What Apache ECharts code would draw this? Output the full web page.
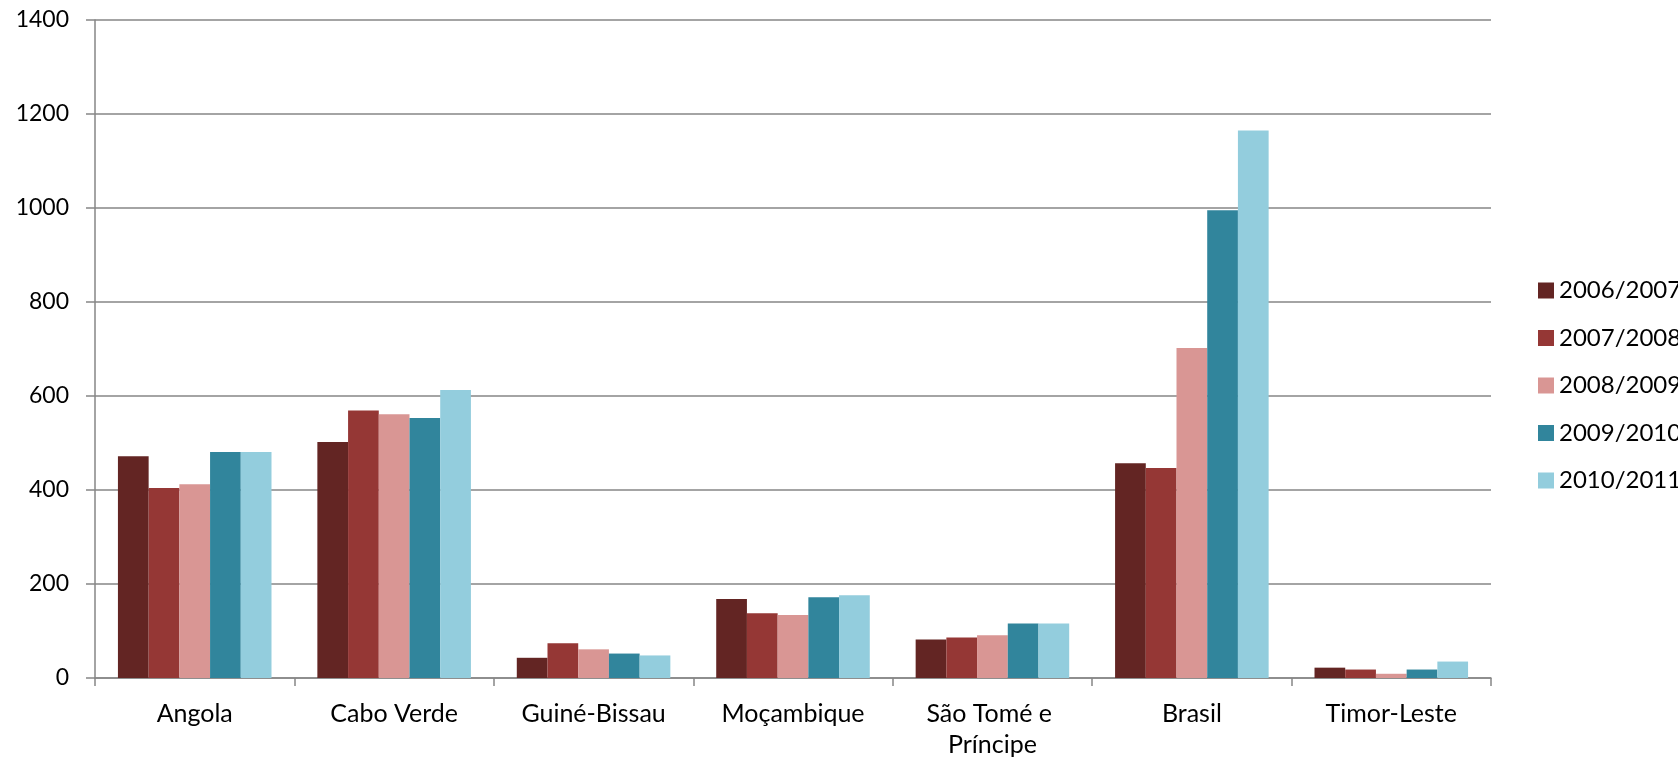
<!DOCTYPE html>
<html>
<head>
<meta charset="utf-8">
<script src="https://cdn.jsdelivr.net/npm/echarts@6/dist/echarts.min.js"></script>
<style>
  html, body { margin: 0; padding: 0; background: #fff; }
  #chart { width: 1678px; height: 757px; }
</style>
</head>
<body>
<div id="chart"></div>
<script>
// Countries on the category axis
const countries = ['Angola', 'Cabo Verde', 'Guiné-Bissau', 'Moçambique', 'São Tomé e Príncipe', 'Brasil', 'Timor-Leste'];

// Academic years (one series each)
const years = ['2006/2007', '2007/2008', '2008/2009', '2009/2010', '2010/2011'];

// Values per academic year, in country order
const y2006_2007 = [472, 502, 43, 168, 82, 457, 22];
const y2007_2008 = [404, 569, 74, 138, 86, 447, 18];
const y2008_2009 = [412, 561, 61, 134, 91, 702, 9];
const y2009_2010 = [481, 553, 52, 172, 116, 995, 18];
const y2010_2011 = [481, 613, 48, 176, 116, 1165, 35];

// Value axis ticks
const yTicks = [0, 200, 400, 600, 800, 1000, 1200, 1400];

const seriesValues = [y2006_2007, y2007_2008, y2008_2009, y2009_2010, y2010_2011];
const colors = ['#632523', '#953735', '#D99694', '#31859C', '#93CDDD'];

const FONT = 'Lato, "Liberation Sans", sans-serif';
const FONT_SIZE = 25;

const chart = echarts.init(document.getElementById('chart'), null, { renderer: 'canvas' });

chart.setOption({
  animation: false,
  backgroundColor: '#ffffff',
  color: colors,
  textStyle: { fontFamily: FONT },
  grid: {
    left: 95, right: 187, top: 20, bottom: 79,
    containLabel: false,
    outerBoundsMode: 'none'
  },
  legend: {
    orient: 'vertical',
    left: 1533,
    top: 273,
    icon: 'rect',
    itemWidth: 16,
    itemHeight: 16,
    itemGap: 22.5,
    data: years,
    textStyle: { fontFamily: FONT, fontSize: 24, lineHeight: 25, color: '#000' }
  },
  xAxis: {
    type: 'category',
    data: countries,
    axisLine: { lineStyle: { color: '#868686', width: 1.5 } },
    axisTick: { show: true, length: 8, alignWithLabel: false, lineStyle: { color: '#868686', width: 1.5 } },
    axisLabel: {
      interval: 0,
      margin: 20,
      fontFamily: FONT,
      fontSize: FONT_SIZE,
      lineHeight: 31,
      color: '#000',
      width: 170,
      overflow: 'break'
    },
    splitLine: { show: false }
  },
  yAxis: {
    type: 'value',
    min: yTicks[0],
    max: yTicks[yTicks.length - 1],
    interval: yTicks[1] - yTicks[0],
    axisLine: { show: true, lineStyle: { color: '#868686', width: 1.5 } },
    axisTick: { show: true, length: 9, inside: false, lineStyle: { color: '#868686', width: 1.5 } },
    axisLabel: {
      margin: 26,
      fontFamily: FONT,
      fontSize: 23,
      color: '#000',
      formatter: (v) => String(v)
    },
    splitLine: { show: true, lineStyle: { color: '#868686', width: 1.5 } }
  },
  series: years.map((name, i) => ({
    name: name,
    type: 'bar',
    data: seriesValues[i],
    barGap: '0%',
    barCategoryGap: '23%',
    itemStyle: { color: colors[i] }
  }))
});
</script>
</body>
</html>
